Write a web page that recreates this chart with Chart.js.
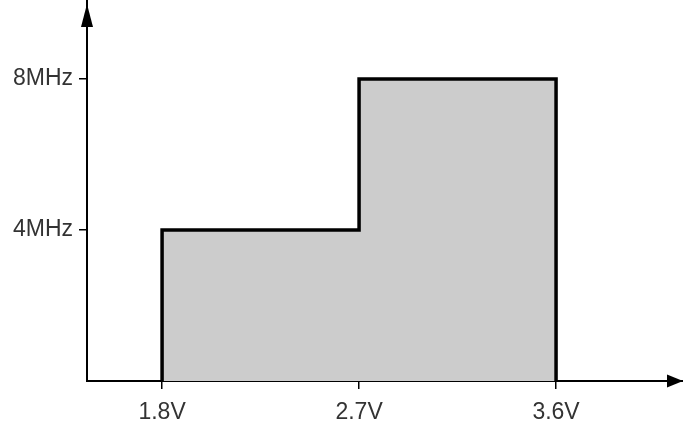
<!DOCTYPE html>
<html>
<head>
<meta charset="utf-8">
<script src="https://cdn.jsdelivr.net/npm/chart.js@4/dist/chart.umd.min.js"></script>
<style>
  html, body { margin: 0; padding: 0; background: #fff; }
  #wrap { width: 683px; height: 426px; }
</style>
</head>
<body>
<div id="wrap"><canvas id="chart" width="683" height="426"></canvas></div>
<script>
// outline of the operating region (supply voltage vs max clock)
const voltage = [1.8, 1.8, 2.7, 2.7, 3.6, 3.6];
const freqMHz = [0, 4, 4, 8, 8, 0];

const xTicks = [1.8, 2.7, 3.6];
const xTickLabels = ['1.8V', '2.7V', '3.6V'];
const yTicks = [4, 8];
const yTickLabels = ['4MHz', '8MHz'];

const labelFont = { family: 'Liberation Sans, Arial, sans-serif', size: 23 };

// arrow heads at the ends of both axes
const axisArrows = {
    id: 'axisArrows',
    afterDraw(chart) {
        const { ctx, chartArea } = chart;
        const x0 = chartArea.left;
        const y0 = chartArea.bottom;
        ctx.save();
        ctx.fillStyle = '#000';
        // y axis arrow
        ctx.beginPath();
        ctx.moveTo(x0, chartArea.top + 4);
        ctx.lineTo(x0 - 6, chartArea.top + 27);
        ctx.lineTo(x0 + 6, chartArea.top + 27);
        ctx.closePath();
        ctx.fill();
        // x axis arrow
        ctx.beginPath();
        ctx.moveTo(chartArea.right, y0);
        ctx.lineTo(chartArea.right - 16, y0 - 6.5);
        ctx.lineTo(chartArea.right - 16, y0 + 6.5);
        ctx.closePath();
        ctx.fill();
        ctx.restore();
    }
};

new Chart(document.getElementById('chart'), {
    type: 'line',
    data: {
        datasets: [{
            data: voltage.map((v, i) => ({ x: v, y: freqMHz[i] })),
            fill: 'origin',
            backgroundColor: '#cccccc',
            borderColor: '#000',
            borderWidth: 3.5,
            borderJoinStyle: 'miter',
            pointRadius: 0,
            tension: 0
        }]
    },
    options: {
        responsive: false,
        animation: false,
        devicePixelRatio: 1,
        layout: { padding: 0 },
        plugins: {
            legend: { display: false },
            tooltip: { enabled: false }
        },
        scales: {
            x: {
                type: 'linear',
                min: 1.457,
                max: 4.18,
                afterBuildTicks: s => { s.ticks = xTicks.map(v => ({ value: v })); },
                afterFit: s => {
                    s.height = 45;
                    s.paddingLeft = 0;
                    s.paddingRight = 0;
                },
                ticks: {
                    padding: 10,
                    color: '#333',
                    font: labelFont,
                    autoSkip: false,
                    maxRotation: 0,
                    callback: (v, i) => xTickLabels[i]
                },
                grid: { drawOnChartArea: false, tickLength: 8, color: '#000', lineWidth: 1.5 },
                border: { color: '#000', width: 2 }
            },
            y: {
                type: 'linear',
                min: 0,
                max: 10.09,
                afterBuildTicks: s => { s.ticks = yTicks.map(v => ({ value: v })); },
                afterFit: s => {
                    s.width = 87;
                    s.paddingTop = 0;
                    s.paddingBottom = 0;
                },
                ticks: {
                    padding: 6,
                    color: '#333',
                    font: labelFont,
                    autoSkip: false,
                    callback: (v, i) => yTickLabels[i]
                },
                grid: { drawOnChartArea: false, tickLength: 8, color: '#000', lineWidth: 1.5 },
                border: { color: '#000', width: 2 }
            }
        }
    },
    plugins: [axisArrows]
});
</script>
</body>
</html>
